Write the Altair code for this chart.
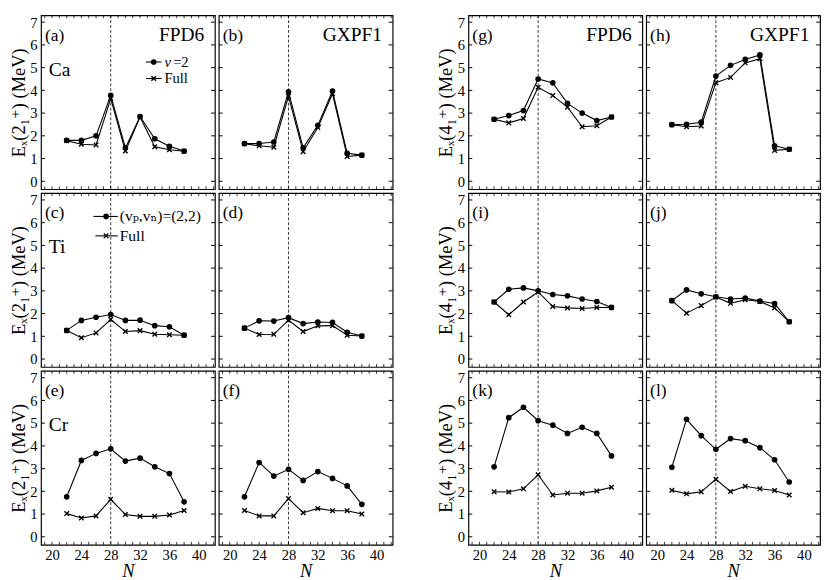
import altair as alt
import pandas as pd

N = [22, 24, 26, 28, 30, 32, 34, 36, 38]

# E_x(2+_1) panels (v = seniority-truncated, full = full calculation)
Ca_FPD6_v = [1.80, 1.80, 2.00, 3.78, 1.47, 2.85, 1.87, 1.54, 1.33]
Ca_FPD6_full = [1.78, 1.63, 1.60, 3.64, 1.33, 2.83, 1.52, 1.39, 1.32]
Ca_GXPF1_v = [1.66, 1.66, 1.73, 3.94, 1.47, 2.46, 3.97, 1.23, 1.15]
Ca_GXPF1_full = [1.65, 1.56, 1.50, 3.74, 1.30, 2.37, 3.85, 1.09, 1.15]
Ti_FPD6_v = [1.26, 1.70, 1.84, 1.96, 1.70, 1.71, 1.47, 1.42, 1.05]
Ti_FPD6_full = [1.26, 0.94, 1.15, 1.74, 1.21, 1.25, 1.09, 1.07, 1.05]
Ti_GXPF1_v = [1.36, 1.68, 1.67, 1.82, 1.56, 1.63, 1.61, 1.18, 1.01]
Ti_GXPF1_full = [1.36, 1.08, 1.09, 1.71, 1.21, 1.46, 1.47, 1.05, 1.01]
Cr_FPD6_v = [1.76, 3.36, 3.67, 3.87, 3.33, 3.46, 3.08, 2.78, 1.54]
Cr_FPD6_full = [1.02, 0.83, 0.92, 1.65, 0.98, 0.90, 0.90, 0.96, 1.16]
Cr_GXPF1_v = [1.76, 3.27, 2.67, 2.97, 2.48, 2.87, 2.57, 2.24, 1.43]
Cr_GXPF1_full = [1.16, 0.92, 0.92, 1.68, 1.06, 1.25, 1.15, 1.15, 1.00]

# E_x(4+_1) panels
Ca_FPD6_v4 = [2.73, 2.89, 3.11, 4.50, 4.33, 3.43, 3.00, 2.67, 2.83]
Ca_FPD6_full4 = [2.73, 2.57, 2.76, 4.14, 3.77, 3.26, 2.40, 2.44, 2.83]
Ca_GXPF1_v4 = [2.49, 2.51, 2.60, 4.63, 5.10, 5.36, 5.56, 1.56, 1.41]
Ca_GXPF1_full4 = [2.49, 2.40, 2.43, 4.34, 4.57, 5.21, 5.39, 1.36, 1.41]
Ti_FPD6_v4 = [2.51, 3.07, 3.13, 3.00, 2.84, 2.78, 2.64, 2.53, 2.27]
Ti_FPD6_full4 = [2.51, 1.95, 2.51, 2.95, 2.31, 2.25, 2.22, 2.27, 2.27]
Ti_GXPF1_v4 = [2.57, 3.04, 2.87, 2.74, 2.64, 2.68, 2.55, 2.44, 1.64]
Ti_GXPF1_full4 = [2.57, 2.02, 2.35, 2.73, 2.45, 2.61, 2.53, 2.25, 1.64]
Cr_FPD6_v4 = [3.08, 5.24, 5.70, 5.11, 4.91, 4.55, 4.82, 4.55, 3.56]
Cr_FPD6_full4 = [1.98, 1.97, 2.11, 2.73, 1.84, 1.92, 1.92, 2.02, 2.18]
Cr_GXPF1_v4 = [3.06, 5.17, 4.45, 3.85, 4.32, 4.23, 3.92, 3.39, 2.41]
Cr_GXPF1_full4 = [2.05, 1.89, 1.98, 2.53, 1.99, 2.22, 2.11, 2.04, 1.84]

x_label_values = [20, 24, 28, 32, 36, 40]
x_minor = list(range(19, 43))
y_label_values = [0, 1, 2, 3, 4, 5, 6, 7]
N_shell = [28]

XD = [18.5, 42.2]
YD = [-0.35, 7.3]
W = 179
H = 179
FONT = "Liberation Serif, Times New Roman, DejaVu Serif, serif"
CROSS = "M-1,-1L1,1M-1,1L1,-1"

one = pd.DataFrame({"k": [0]})


def txt(s, x, y, size=18, align="left", style="normal", baseline="alphabetic"):
    return alt.Chart(one).mark_text(
        text=s, align=align, baseline=baseline, fontSize=size, font=FONT,
        fontStyle=style, color="black"
    ).encode(x=alt.value(x), y=alt.value(y))


def panel(vals, full, letter, model, nucleus, legend, show_y, show_x, ytitle):
    df = pd.DataFrame({"N": N * 2, "E": vals + full, "s": ["v"] * 9 + ["full"] * 9})
    if show_x:
        xax = alt.Axis(values=x_label_values, title="N", ticks=False, domain=False, grid=False,
                       labelFontSize=15, titleFontSize=19, titleFontStyle="italic",
                       titleFontWeight="normal", labelPadding=3, titlePadding=0,
                       labelFont=FONT, titleFont=FONT, format="d", labelColor="black",
                       titleColor="black")
    else:
        xax = None
    if show_y:
        yax = alt.Axis(values=y_label_values, title=ytitle, ticks=False, domain=False, grid=False,
                       labelFontSize=15, titleFontSize=19, titleFontWeight="normal",
                       labelPadding=4, titlePadding=2, labelFont=FONT, titleFont=FONT,
                       labelColor="black", titleColor="black")
    else:
        yax = None
    xe = alt.X("N:Q", scale=alt.Scale(domain=XD, nice=False, zero=False), axis=xax)
    ye = alt.Y("E:Q", scale=alt.Scale(domain=YD, nice=False, zero=False), axis=yax)

    base = alt.Chart(df)
    lines = base.mark_line(color="black", strokeWidth=1.1).encode(x=xe, y=ye, detail="s:N")
    dots = base.transform_filter(alt.datum.s == "v").mark_point(
        shape="circle", filled=True, size=34, color="black", opacity=1).encode(x=xe, y=ye)
    crosses = base.transform_filter(alt.datum.s == "full").mark_point(
        shape=CROSS, size=22, color="black", strokeWidth=1.4, opacity=1).encode(x=xe, y=ye)

    dash = alt.Chart(pd.DataFrame({"N": N_shell})).mark_rule(
        color="black", strokeDash=[3, 2], strokeWidth=0.8).encode(x=xe)

    ydf = pd.DataFrame({"E": y_label_values})
    xdf = pd.DataFrame({"N": x_minor})
    tl = alt.Chart(ydf).mark_rule(color="black", strokeWidth=1).encode(
        y=ye, x=alt.value(0), x2=alt.value(4))
    tr = alt.Chart(ydf).mark_rule(color="black", strokeWidth=1).encode(
        y=ye, x=alt.value(W - 4), x2=alt.value(W))
    tb = alt.Chart(xdf).mark_rule(color="black", strokeWidth=0.8).encode(
        x=xe, y=alt.value(H - 3), y2=alt.value(H))
    tt = alt.Chart(xdf).mark_rule(color="black", strokeWidth=0.8).encode(
        x=xe, y=alt.value(0), y2=alt.value(3))

    layers = [dash, tl, tr, tb, tt, lines, dots, crosses, txt(letter, 4, 26)]
    if model:
        layers.append(txt(model, W - 11, 26, size=20, align="right"))
    if nucleus:
        layers.append(txt(nucleus, 8, 62, size=20))
    if legend == "a":
        layers += [
            alt.Chart(one).mark_rule(color="black", strokeWidth=1.1).encode(
                x=alt.value(108), x2=alt.value(124), y=alt.value(48)),
            alt.Chart(one).mark_point(shape="circle", filled=True, size=34, color="black", opacity=1).encode(
                x=alt.value(116), y=alt.value(48)),
            txt("v", 127, 48, size=15, style="italic", baseline="middle"),
            txt("=2", 136, 48, size=15, baseline="middle"),
            alt.Chart(one).mark_rule(color="black", strokeWidth=1.1).encode(
                x=alt.value(108), x2=alt.value(124), y=alt.value(65)),
            alt.Chart(one).mark_point(shape=CROSS, size=22, color="black", strokeWidth=1.4, opacity=1).encode(
                x=alt.value(116), y=alt.value(65)),
            txt("Full", 127, 65, size=15, baseline="middle"),
        ]
    if legend == "c":
        layers += [
            alt.Chart(one).mark_rule(color="black", strokeWidth=1.1).encode(
                x=alt.value(54), x2=alt.value(79), y=alt.value(24)),
            alt.Chart(one).mark_point(shape="circle", filled=True, size=34, color="black", opacity=1).encode(
                x=alt.value(67), y=alt.value(24)),
            txt("(vₚ,vₙ)=(2,2)", 81, 24, size=16, baseline="middle"),
            alt.Chart(one).mark_rule(color="black", strokeWidth=1.1).encode(
                x=alt.value(56), x2=alt.value(79), y=alt.value(44)),
            alt.Chart(one).mark_point(shape=CROSS, size=22, color="black", strokeWidth=1.4, opacity=1).encode(
                x=alt.value(67), y=alt.value(44)),
            txt("Full", 81, 44, size=16, baseline="middle"),
        ]
    return alt.layer(*layers).properties(width=W, height=H)


T2 = "Eₓ(2₁⁺)  (MeV)"
T4 = "Eₓ(4₁⁺)  (MeV)"

left_rows = [
    alt.hconcat(
        panel(Ca_FPD6_v, Ca_FPD6_full, "(a)", "FPD6", "Ca", "a", True, False, T2),
        panel(Ca_GXPF1_v, Ca_GXPF1_full, "(b)", "GXPF1", None, None, False, False, T2),
        spacing=0),
    alt.hconcat(
        panel(Ti_FPD6_v, Ti_FPD6_full, "(c)", None, "Ti", "c", True, False, T2),
        panel(Ti_GXPF1_v, Ti_GXPF1_full, "(d)", None, None, None, False, False, T2),
        spacing=0),
    alt.hconcat(
        panel(Cr_FPD6_v, Cr_FPD6_full, "(e)", None, "Cr", None, True, True, T2),
        panel(Cr_GXPF1_v, Cr_GXPF1_full, "(f)", None, None, None, False, True, T2),
        spacing=0),
]
right_rows = [
    alt.hconcat(
        panel(Ca_FPD6_v4, Ca_FPD6_full4, "(g)", "FPD6", None, None, True, False, T4),
        panel(Ca_GXPF1_v4, Ca_GXPF1_full4, "(h)", "GXPF1", None, None, False, False, T4),
        spacing=0),
    alt.hconcat(
        panel(Ti_FPD6_v4, Ti_FPD6_full4, "(i)", None, None, None, True, False, T4),
        panel(Ti_GXPF1_v4, Ti_GXPF1_full4, "(j)", None, None, None, False, False, T4),
        spacing=0),
    alt.hconcat(
        panel(Cr_FPD6_v4, Cr_FPD6_full4, "(k)", None, None, None, True, True, T4),
        panel(Cr_GXPF1_v4, Cr_GXPF1_full4, "(l)", None, None, None, False, True, T4),
        spacing=0),
]

chart = alt.hconcat(
    alt.vconcat(*left_rows, spacing=2),
    alt.vconcat(*right_rows, spacing=2),
    spacing=42,
).properties(
    padding={"left": 0, "top": -2, "right": 0, "bottom": 0}
).configure(
    font=FONT, background="white"
).configure_view(
    stroke="black", strokeWidth=1.2
)

chart.save("out.html", embed_options={"renderer": "svg", "actions": False})
